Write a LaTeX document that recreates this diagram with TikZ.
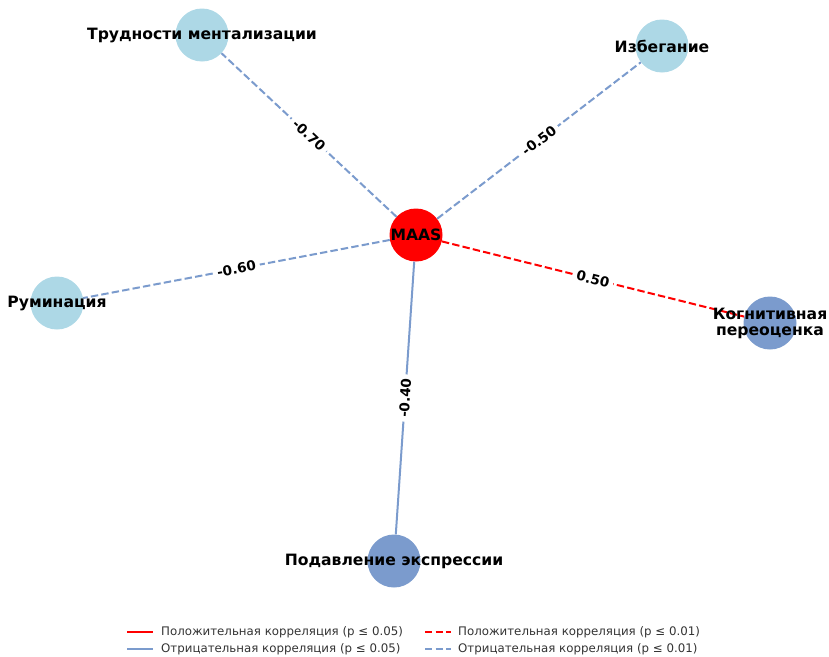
\documentclass[tikz,border=0pt]{standalone}
\usepackage{fontspec}
\setmainfont{DejaVu Sans}
\usepackage{xcolor}
\usetikzlibrary{positioning}
\definecolor{lightnode}{RGB}{173,216,230}
\definecolor{darknode}{RGB}{123,155,205}
\definecolor{negline}{RGB}{123,155,205}
\definecolor{posline}{RGB}{255,0,0}
\newcommand{\nodefont}{\fontsize{15.6}{18}\selectfont\bfseries}
\newcommand{\weightfont}{\fontsize{13.6}{16}\selectfont\bfseries}
\newcommand{\legfont}{\fontsize{11.8}{14}\selectfont}
\tikzstyle{vertex} = [circle, minimum size=53pt, inner sep=0pt]
\tikzstyle{vlabel} = [text centered, align=center, font=\nodefont]
\tikzstyle{weight} = [midway, sloped, fill=white, text=black, inner xsep=4pt, inner ysep=2pt, font=\weightfont]
\tikzstyle{negedge} = [negline, line width=2pt]
\tikzstyle{posedge} = [posline, line width=2pt]
\tikzstyle{dash01} = [dash pattern=on 7.4pt off 3.2pt]
\tikzstyle{legtext} = [anchor=west, inner sep=0pt, font=\legfont, text=black!80]

\begin{document}
\begin{tikzpicture}[x=1pt,y=-1pt]
            \useasboundingbox (0,0) rectangle (829,656);
            % vertices
            \node (M) at (416,235) [vertex, fill=posline] {};
            \node (T) at (202,35) [vertex, fill=lightnode] {};
            \node (I) at (662,46) [vertex, fill=lightnode] {};
            \node (R) at (57,303) [vertex, fill=lightnode] {};
            \node (K) at (770,323) [vertex, fill=darknode] {};
            \node (P) at (394,561) [vertex, fill=darknode] {};
            % edges
            \draw[negedge, dash01](M)--node[weight] {-0.70}(T);
            \draw[negedge, dash01](M)--node[weight] {-0.50}(I);
            \draw[negedge, dash01](M)--node[weight] {-0.60}(R);
            \draw[posedge, dash01](M)--node[weight] {0.50}(K);
            \draw[negedge](M)--node[weight] {-0.40}(P);
            % texts
            \node(Mt)[vlabel] at (M) {MAAS};
            \node(Tt)[vlabel] at (T) {Трудности ментализации};
            \node(It)[vlabel] at (I) {Избегание};
            \node(Rt)[vlabel] at (R) {Руминация};
            \node(Kt)[vlabel] at (K) {Когнитивная\\[-2pt]переоценка};
            \node(Pt)[vlabel] at (P) {Подавление экспрессии};
            % legend
            \coordinate (a1) at (127,632);
            \coordinate (b1) at (153,632);
            \coordinate (a2) at (127,649);
            \coordinate (b2) at (153,649);
            \coordinate (c1) at (425,632);
            \coordinate (d1) at (451,632);
            \coordinate (c2) at (425,649);
            \coordinate (d2) at (451,649);
            \draw[posedge](a1)--(b1);
            \draw[negedge](a2)--(b2);
            \draw[posedge, dash01](c1)--(d1);
            \draw[negedge, dash01](c2)--(d2);
            \node(l1)[legtext] at (161,632) {Положительная корреляция (p ≤ 0.05)};
            \node(l2)[legtext] at (161,649) {Отрицательная корреляция (p ≤ 0.05)};
            \node(l3)[legtext] at (458,632) {Положительная корреляция (p ≤ 0.01)};
            \node(l4)[legtext] at (458,649) {Отрицательная корреляция (p ≤ 0.01)};
        \end{tikzpicture}
\end{document}
